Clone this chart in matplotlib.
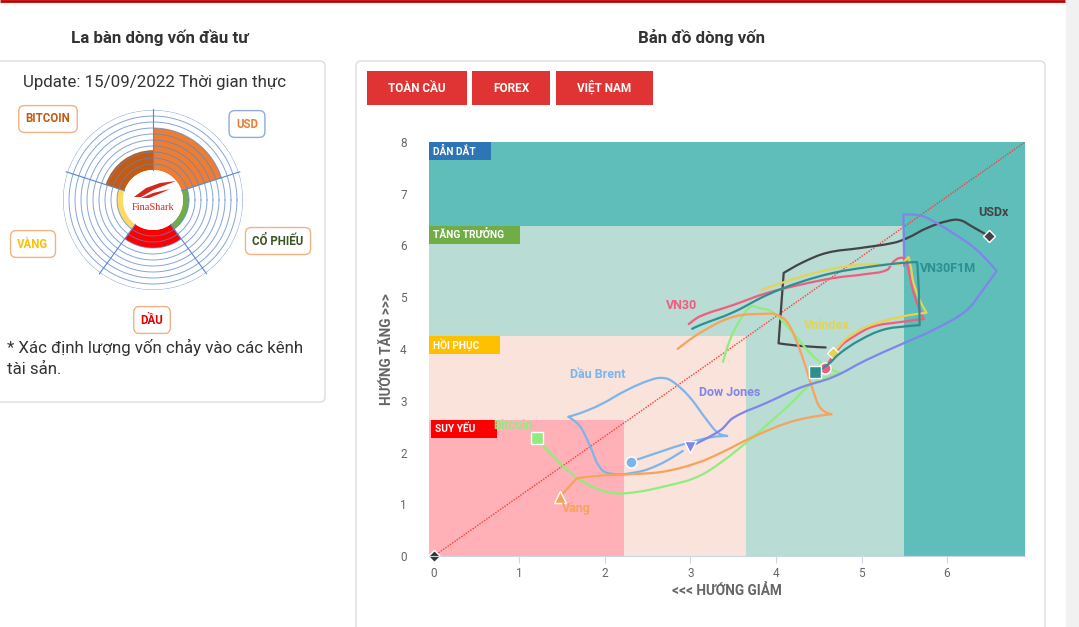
import matplotlib
matplotlib.use('Agg')
import matplotlib.pyplot as plt
from matplotlib.patches import Rectangle, FancyBboxPatch, Polygon, PathPatch
from matplotlib.path import Path
import numpy as np

plt.rcParams['font.family'] = ['Roboto', 'DejaVu Sans']

W, H = 1079, 627

# ---------------- data ----------------
zone_names = ['DẪN DẮT', 'TĂNG TRƯỞNG', 'HỒI PHỤC', 'SUY YẾU']
zone_x_end = [6.912, 5.50, 3.65, 2.22]
zone_y_end = [8.0, 6.38, 4.25, 2.63]

x_ticks = [0, 1, 2, 3, 4, 5, 6]
y_ticks = [0, 1, 2, 3, 4, 5, 6, 7, 8]

diag_x = [0, 6.912]
diag_y = [0, 8]

brent_x = [2.91, 2.65, 2.37, 2.04, 1.92, 1.83, 1.71, 1.57, 1.71, 1.94, 2.26, 2.53, 2.68, 2.80, 2.99, 3.19, 3.32, 3.43, 3.26, 2.96, 2.64, 2.30]
brent_y = [2.03, 1.78, 1.62, 1.60, 1.76, 2.11, 2.50, 2.69, 2.76, 2.92, 3.21, 3.40, 3.44, 3.36, 3.07, 2.63, 2.38, 2.32, 2.30, 2.18, 2.01, 1.82]

usdx_x = [4.58, 4.28, 4.03, 4.06, 4.09, 4.32, 4.60, 4.98, 5.37, 5.53, 5.77, 6.00, 6.15, 6.30, 6.49]
usdx_y = [4.03, 4.06, 4.11, 4.80, 5.47, 5.68, 5.86, 5.95, 6.05, 6.14, 6.34, 6.47, 6.49, 6.36, 6.18]

btc_x = [3.38, 3.46, 3.58, 3.70, 3.81, 3.97, 4.20, 4.40, 4.60, 4.76, 4.43, 4.13, 3.73, 3.35, 3.08, 2.76, 2.29, 2.02, 1.71, 1.47, 1.27, 1.20]
btc_y = [3.75, 4.17, 4.56, 4.81, 4.79, 4.70, 4.31, 3.92, 3.65, 3.53, 3.34, 2.88, 2.30, 1.80, 1.53, 1.37, 1.22, 1.24, 1.47, 1.80, 2.14, 2.28]

gold_x = [2.85, 3.11, 3.50, 3.89, 4.01, 4.13, 4.22, 4.32, 4.42, 4.51, 4.65, 4.43, 4.13, 3.73, 3.35, 3.08, 2.68, 2.29, 1.91, 1.67, 1.47]
gold_y = [4.00, 4.31, 4.62, 4.68, 4.66, 4.52, 4.23, 3.79, 3.27, 2.88, 2.74, 2.69, 2.57, 2.30, 1.99, 1.80, 1.63, 1.58, 1.55, 1.50, 1.14]

dow_x = [5.50, 5.49, 5.65, 5.77, 6.07, 6.35, 6.58, 6.42, 6.23, 5.84, 5.45, 5.06, 4.67, 4.28, 3.89, 3.50, 3.35, 2.99]
dow_y = [5.60, 6.60, 6.59, 6.53, 6.24, 5.91, 5.51, 5.14, 4.75, 4.37, 4.08, 3.79, 3.46, 3.25, 2.96, 2.67, 2.43, 2.11]

vn30_x = [2.98, 3.11, 3.50, 3.89, 4.28, 4.67, 5.06, 5.30, 5.37, 5.45, 5.51, 5.55, 5.60, 5.68, 5.73, 5.45, 5.13, 4.90, 4.75, 4.57]
vn30_y = [4.48, 4.63, 4.85, 5.08, 5.24, 5.37, 5.45, 5.53, 5.68, 5.76, 5.72, 5.53, 5.14, 4.75, 4.58, 4.52, 4.43, 4.23, 4.04, 3.63]

vni_x = [3.83, 4.28, 4.75, 5.13, 5.45, 5.55, 5.58, 5.60, 5.68, 5.76, 5.45, 5.06, 4.83, 4.67]
vni_y = [5.14, 5.39, 5.58, 5.64, 5.64, 5.78, 5.56, 5.33, 4.95, 4.70, 4.62, 4.43, 4.21, 3.92]

vnf_x = [3.02, 3.11, 3.50, 3.89, 4.28, 4.67, 5.06, 5.45, 5.65, 5.67, 5.68, 5.53, 5.25, 4.98, 4.75, 4.60, 4.46]
vnf_y = [4.39, 4.46, 4.71, 5.04, 5.29, 5.47, 5.58, 5.66, 5.68, 5.14, 4.46, 4.44, 4.37, 4.17, 3.92, 3.69, 3.56]

series_names = ['Dầu Brent', 'USDx', 'Bitcoin', 'Vàng', 'Dow Jones', 'VN30', 'Vnindex', 'VN30F1M']
series_x = [brent_x, usdx_x, btc_x, gold_x, dow_x, vn30_x, vni_x, vnf_x]
series_y = [brent_y, usdx_y, btc_y, gold_y, dow_y, vn30_y, vni_y, vnf_y]

compass_cats = ['USD', 'CỔ PHIẾU', 'DẦU', 'VÀNG', 'BITCOIN']
compass_vals = [7, 1, 3, 1, 3.3]

# ---------------- styles ----------------
zone_colors = ['#5fbdba', '#b9dcd4', '#f9e3db', '#ffb1b7']
zone_box_colors = ['#2e75b6', '#70ad47', '#ffc000', '#ff0000']
zone_box_w = [0.728, 1.064, 0.830, 0.772]
zone_box_x0 = [-0.058, -0.058, -0.058, -0.035]

series_colors = ['#7cb5ec', '#434348', '#90ed7d', '#f7a35c', '#8085e9', '#f15c80', '#e4d354', '#2b908f']
series_markers = ['o', 'D', 's', '^', 'v', 'o', 'D', 's']
series_msize = [8, 6.5, 8, 8, 8, 8, 6.5, 8]
series_corners = [[7, 17], [2, 4], [9], [10, 19], [1, 6], [14], [5, 9], [8, 10]]
label_xy = [(1.92, 3.50), (6.54, 6.63), (0.92, 2.53), (1.67, 0.91), (3.46, 3.15), (2.90, 4.85), (4.60, 4.46), (5.68, 5.55)]
label_ha = ['center', 'center', 'center', 'center', 'center', 'center', 'center', 'left']

compass_colors = ['#ed7d31', '#70ad47', '#ff0000', '#ffd966', '#c55a11']
compass_txt_colors = ['#ed7d31', '#375623', '#e00000', '#ffc000', '#c55a11']
compass_box_edges = ['#8faadc', '#f4b183', '#f4b183', '#f4b183', '#f4b183']
compass_label_px = [(247, 124), (278, 241), (152, 320), (33, 244), (48, 119)]


def spline_path(xs, ys, corners=(), smoothing=1.5):
    """Highcharts-style spline rendering through the given points."""
    n = len(xs)
    lc = [None] * n
    rc = [None] * n
    d = smoothing + 1
    for i in range(1, n - 1):
        if i in corners:
            continue
        x, y = xs[i], ys[i]
        lcx = (smoothing * x + xs[i - 1]) / d
        lcy = (smoothing * y + ys[i - 1]) / d
        rcx = (smoothing * x + xs[i + 1]) / d
        rcy = (smoothing * y + ys[i + 1]) / d
        if rcx != lcx:
            corr = ((rcy - lcy) * (rcx - x)) / (rcx - lcx) + y - rcy
            lcy += corr
            rcy += corr
        lc[i] = (lcx, lcy)
        rc[i] = (rcx, rcy)
    verts = [(xs[0], ys[0])]
    codes = [Path.MOVETO]
    for i in range(1, n):
        c1 = rc[i - 1] if rc[i - 1] is not None else (xs[i - 1], ys[i - 1])
        c2 = lc[i] if lc[i] is not None else (xs[i], ys[i])
        verts += [c1, c2, (xs[i], ys[i])]
        codes += [Path.CURVE4] * 3
    return Path(verts, codes)


fig = plt.figure(figsize=(W / 100, H / 100), dpi=100)

# ---------------- background page ----------------
bg = fig.add_axes([0, 0, 1, 1], zorder=0)
bg.set_xlim(0, W)
bg.set_ylim(H, 0)
bg.axis('off')
bg.add_patch(Rectangle((1066, 0), 13, H, color='#f1f1f1', lw=0))
bg.plot([0, 1065], [1, 1], color='#c00000', lw=2, solid_capstyle='butt')
bg.add_patch(FancyBboxPatch((-10, 61), 335, 341, boxstyle='round,pad=0,rounding_size=5',
                            ec='#dddddd', fc='white', lw=1))
bg.add_patch(FancyBboxPatch((356, 61), 689, 620, boxstyle='round,pad=0,rounding_size=5',
                            ec='#dddddd', fc='white', lw=1))
bg.text(160, 38, 'La bàn dòng vốn đầu tư', ha='center', va='center', fontsize=12.2,
        fontweight='bold', color='#333333')
bg.text(701, 38, 'Bản đồ dòng vốn', ha='center', va='center', fontsize=12.2,
        fontweight='bold', color='#333333')
bg.text(155, 83, 'Update: 15/09/2022 Thời gian thực', ha='center', va='center',
        fontsize=12.2, color='#333333')
bg.text(7, 347, '* Xác định lượng vốn chảy vào các kênh', ha='left', va='center',
        fontsize=12.2, color='#333333')
bg.text(7, 370, 'tài sản.', ha='left', va='center', fontsize=12.2, color='#333333')

for (bx, bw, lab) in [(367, 100, 'TOÀN CẦU'), (472, 78, 'FOREX'), (556, 97, 'VIỆT NAM')]:
    bg.add_patch(Rectangle((bx, 71), bw, 34, color='#e03434', lw=0))
    bg.text(bx + bw / 2, 88, lab, ha='center', va='center', fontsize=8.5,
            fontweight='bold', color='white')

for cat, (px, py), tc, ec in zip(compass_cats, compass_label_px, compass_txt_colors, compass_box_edges):
    bg.text(px, py, cat, ha='center', va='center', fontsize=8.3, fontweight='bold', color=tc,
            bbox=dict(boxstyle='round,pad=0.6,rounding_size=0.5', fc='white', ec=ec, lw=1))

# ---------------- compass (polar) ----------------
axp = fig.add_axes([63 / W, (H - 290) / H, 180 / W, 180 / H], projection='polar', zorder=1)
axp.set_ylim(0, 10)
axp.set_rorigin(-5)
n = len(compass_cats)
theta_c = np.deg2rad(54 - 72 * np.arange(n))
axp.bar(theta_c, compass_vals, width=np.deg2rad(72), bottom=0, color=compass_colors,
        edgecolor='none', align='center', zorder=1)
full = np.linspace(0, 2 * np.pi, 361)
for r in range(1, 11):
    axp.plot(full, np.full_like(full, r), color='#5b86d0', lw=0.7, alpha=0.75, zorder=2)
for th in theta_c + np.deg2rad(36):
    axp.plot([th, th], [0, 10.2], color='#5b86d0', lw=0.8, zorder=2, clip_on=False)
axp.set_axis_off()

# logo on top
fg = fig.add_axes([0, 0, 1, 1], zorder=5)
fg.set_xlim(0, W)
fg.set_ylim(H, 0)
fg.axis('off')
fg.patch.set_alpha(0)
fg.add_patch(Polygon([(134, 197), (146, 188), (160, 183), (176, 181), (163, 186), (153, 190), (141, 197)],
                     closed=True, fc='#d7261e', ec='none'))
fg.add_patch(Polygon([(141, 198), (153, 193), (170, 189), (159, 194), (149, 198)],
                     closed=True, fc='#d7261e', ec='none'))
fg.text(153, 208, 'FinaShark', ha='center', va='center', fontsize=7.5, color='#d7261e',
        family=['Liberation Serif', 'DejaVu Serif'])

# ---------------- main chart ----------------
ax = fig.add_axes([429 / W, (H - 556) / H, 596 / W, 414 / H], zorder=2)
xmin, xmax = -0.058, 6.912
ax.set_xlim(xmin, xmax)
ax.set_ylim(0, 8)

for i, name in enumerate(zone_names):
    ax.add_patch(Rectangle((xmin, 0), zone_x_end[i] - xmin, zone_y_end[i],
                           fc=zone_colors[i], ec='none', zorder=0))
for i, name in enumerate(zone_names):
    top = zone_y_end[i]
    ax.add_patch(Rectangle((zone_box_x0[i], top - 0.348), zone_box_w[i], 0.348,
                           fc=zone_box_colors[i], ec='none', zorder=1))
    ax.text(zone_box_x0[i] + 0.045, top - 0.174, name, ha='left', va='center',
            fontsize=7.3, fontweight='bold', color='white', zorder=1.5)

ax.plot(diag_x, diag_y, color='#ff3b3b', lw=1, ls=(0, (1, 1)), zorder=2)
ax.plot(diag_x[:1], diag_y[:1], ls='none', marker='D', ms=6, mfc='#333333', mec='white',
        mew=1, zorder=6, clip_on=False)

for i, name in enumerate(series_names):
    z = 3 + i * 0.1
    ax.add_patch(PathPatch(spline_path(series_x[i], series_y[i], series_corners[i]), fc='none',
                           ec=series_colors[i], lw=1.6, zorder=z, joinstyle='round',
                           capstyle='round'))
    ax.plot(series_x[i][-1:], series_y[i][-1:], ls='none', marker=series_markers[i],
            ms=series_msize[i], mfc=series_colors[i], mec='white', mew=1, zorder=z + 0.05)
    lx, ly = label_xy[i]
    ax.text(lx, ly, name, ha=label_ha[i], va='center', fontsize=9, fontweight='bold',
            color=series_colors[i], zorder=8)

for s in ['top', 'right', 'left']:
    ax.spines[s].set_visible(False)
ax.spines['bottom'].set_color('#ccd6eb')
ax.spines['bottom'].set_zorder(7)
ax.set_xticks(x_ticks)
ax.set_yticks(y_ticks)
ax.tick_params(axis='x', direction='out', length=5, color='#ccd6eb', labelcolor='#666666',
               labelsize=8.5, pad=3)
ax.tick_params(axis='y', length=0, labelcolor='#666666', labelsize=8.5, pad=16)
ax.set_xlabel('<<< HƯỚNG GIẢM', fontsize=9.8, fontweight='bold', color='#666666')
ax.set_ylabel('HƯỚNG TĂNG >>>', fontsize=9.8, fontweight='bold', color='#666666')
ax.xaxis.set_label_coords(298 / 596, -28 / 414)
ax.yaxis.set_label_coords(-35 / 596, 0.5)

fig.savefig('out.png', dpi=100)
